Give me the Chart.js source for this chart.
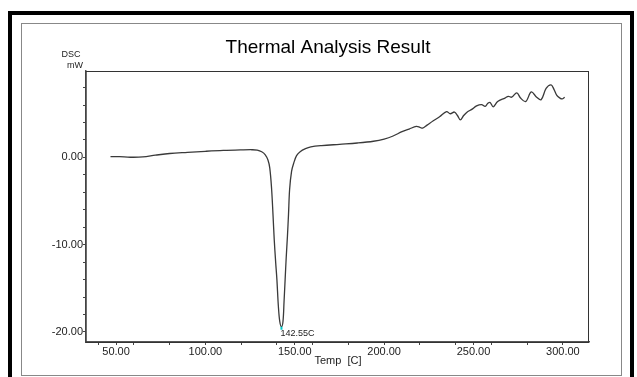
<!DOCTYPE html>
<html lang="en">
<head>
<meta charset="UTF-8">
<title>Thermal Analysis Result</title>
<script src="https://cdn.jsdelivr.net/npm/chart.js"></script>
<style>
    html, body { margin: 0; padding: 0; background: #fff; }
    #grafico { position: absolute; left: 0; top: 0; }
</style>
</head>
<body>
<canvas id="grafico" width="637" height="377"></canvas>
<script>
    var temperaturas = [46.9, 52, 58, 65, 72, 80, 90, 100, 110, 120, 126, 129, 131.5, 133.5, 135, 136, 137, 137.8,
        138.5, 139.3, 140, 140.8, 141.6, 142.55, 143.4, 144, 144.6, 145.2, 145.9, 146.5, 147.1, 148.2, 149.5, 151,
        153, 156, 159, 165, 175, 185, 194, 200, 205, 210, 214, 218, 220, 221.5, 224, 227.5, 231, 234.9, 237, 239.3,
        241, 242.6, 244.5, 246.5, 249, 251.7, 254.5, 256.5, 258, 259.3, 261, 263.5, 267.6, 269.5, 271.3, 274.2,
        276.3, 279.2, 282.3, 285.3, 287.8, 290.6, 293.4, 295, 296.6, 298.3, 299.5, 301];
    var dsc = [0.10, 0.08, 0.02, 0.05, 0.25, 0.45, 0.58, 0.70, 0.80, 0.86, 0.88, 0.84, 0.65, 0.30, -0.3, -1.2, -3.5, -6.5,
        -9.4, -12, -14, -17, -18.8, -19.4, -18.8, -16.5, -14, -11.5, -9.0, -6.5, -3.7, -1.6, -0.6, 0.2,
        0.66, 1.0, 1.2, 1.35, 1.5, 1.65, 1.85, 2.1, 2.45, 2.95, 3.25, 3.55, 3.45, 3.35, 3.7, 4.2, 4.65, 5.25, 5.0, 5.2,
        4.8, 4.3, 4.8, 5.2, 5.5, 5.9, 6.05, 5.85, 6.2, 6.3, 5.8, 6.4, 6.8, 7.0, 6.9, 7.4,
        6.8, 6.4, 7.5, 6.9, 6.6, 7.9, 8.3, 7.8, 7.1, 6.8, 6.7, 6.9];

    var ticksX = [50, 100, 150, 200, 250, 300];
    var ticksY = [-20, -10, 0];
    var menoresX = [40, 60, 80, 120, 140, 160, 180, 220, 240, 260, 280];
    var menoresY = [-18, -16, -14, -12, -8, -6, -4, -2, 2, 4, 6, 8];
    var rotuloPico = '142.55C';

    var pontos = [];
    for (var i = 0; i < temperaturas.length; i++) {
        pontos.push({ x: temperaturas[i], y: dsc[i] });
    }

    var fonte = "'Liberation Sans', Arial, sans-serif";

    function montarTicks(maiores, menores) {
        var lista = maiores.concat(menores).sort(function (a, b) { return a - b; });
        return lista.map(function (v) { return { value: v }; });
    }

    // moldura, titulo e textos extras
    var moldura = {
        id: 'moldura',
        beforeDraw: function (chart) {
            var ctx = chart.ctx;
            ctx.save();
            ctx.fillStyle = '#fff';
            ctx.fillRect(0, 0, 637, 377);
            ctx.fillStyle = '#000';
            ctx.fillRect(8, 11, 626, 4);
            ctx.fillRect(8, 11, 4, 366);
            ctx.fillRect(630, 11, 4, 366);
            ctx.strokeStyle = '#888';
            ctx.lineWidth = 1;
            ctx.strokeRect(21.5, 23.5, 600, 352);
            ctx.restore();
        },
        afterDraw: function (chart) {
            var ctx = chart.ctx;
            var area = chart.chartArea;
            ctx.save();
            ctx.strokeStyle = '#333';
            ctx.lineWidth = 1;
            ctx.strokeRect(area.left, area.top + 0.5, area.right - area.left - 0.5, area.bottom - area.top);

            ctx.fillStyle = '#000';
            ctx.textAlign = 'center';
            ctx.textBaseline = 'middle';
            ctx.font = '19px ' + fonte;
            ctx.fillText('Thermal Analysis Result', 328, 48);

            ctx.font = '9px ' + fonte;
            ctx.fillStyle = '#222';
            ctx.fillText('DSC', 71, 55);
            ctx.fillText('mW', 75, 66);

            ctx.font = '11px ' + fonte;
            ctx.fillText('Temp  [C]', 338, 361);

            // pico
            var idx = 0;
            for (var i = 1; i < dsc.length; i++) {
                if (dsc[i] < dsc[idx]) idx = i;
            }
            var px = chart.scales.x.getPixelForValue(temperaturas[idx]);
            var py = chart.scales.y.getPixelForValue(dsc[idx]);
            ctx.fillStyle = '#0cc';
            ctx.fillRect(px - 1, py, 2, 3);
            ctx.fillStyle = '#222';
            ctx.textAlign = 'left';
            ctx.font = '9px ' + fonte;
            ctx.fillText(rotuloPico, px - 1, py + 7);
            ctx.restore();
        }
    };

    var config = {
        type: 'line',
        data: {
            datasets: [{
                label: 'DSC',
                data: pontos,
                borderColor: '#3a3a3a',
                borderWidth: 1.3,
                pointRadius: 0,
                fill: false,
                tension: 0.35
            }]
        },
        options: {
            responsive: false,
            animation: false,
            devicePixelRatio: 1,
            layout: { padding: { left: 0, right: 48, top: 71, bottom: 0 } },
            plugins: {
                legend: { display: false },
                title: { display: false },
                tooltip: { enabled: false }
            },
            scales: {
                x: {
                    type: 'linear',
                    min: 33.2,
                    max: 314.6,
                    afterBuildTicks: function (scale) { scale.ticks = montarTicks(ticksX, menoresX); },
                    afterFit: function (scale) { scale.height = 35; },
                    ticks: {
                        autoSkip: false,
                        maxRotation: 0,
                        padding: 0,
                        color: '#222',
                        font: { family: fonte, size: 11 },
                        callback: function (v) { return ticksX.indexOf(v) >= 0 ? v.toFixed(2) : ''; }
                    },
                    grid: { drawOnChartArea: false, tickLength: 3, color: '#444' },
                    border: { color: '#555', width: 1.5 }
                },
                y: {
                    min: -21.15,
                    max: 9.9,
                    afterBuildTicks: function (scale) { scale.ticks = montarTicks(ticksY, menoresY); },
                    afterFit: function (scale) { scale.width = 86; },
                    ticks: {
                        autoSkip: false,
                        padding: 0,
                        color: '#222',
                        font: { family: fonte, size: 11 },
                        callback: function (v) { return ticksY.indexOf(v) >= 0 ? v.toFixed(2) : ''; }
                    },
                    grid: { drawOnChartArea: false, tickLength: 3, color: '#444' },
                    border: { color: '#555', width: 1.5 }
                }
            }
        },
        plugins: [moldura]
    };

    var myChart = new Chart(document.getElementById('grafico'), config);
</script>
</body>
</html>
